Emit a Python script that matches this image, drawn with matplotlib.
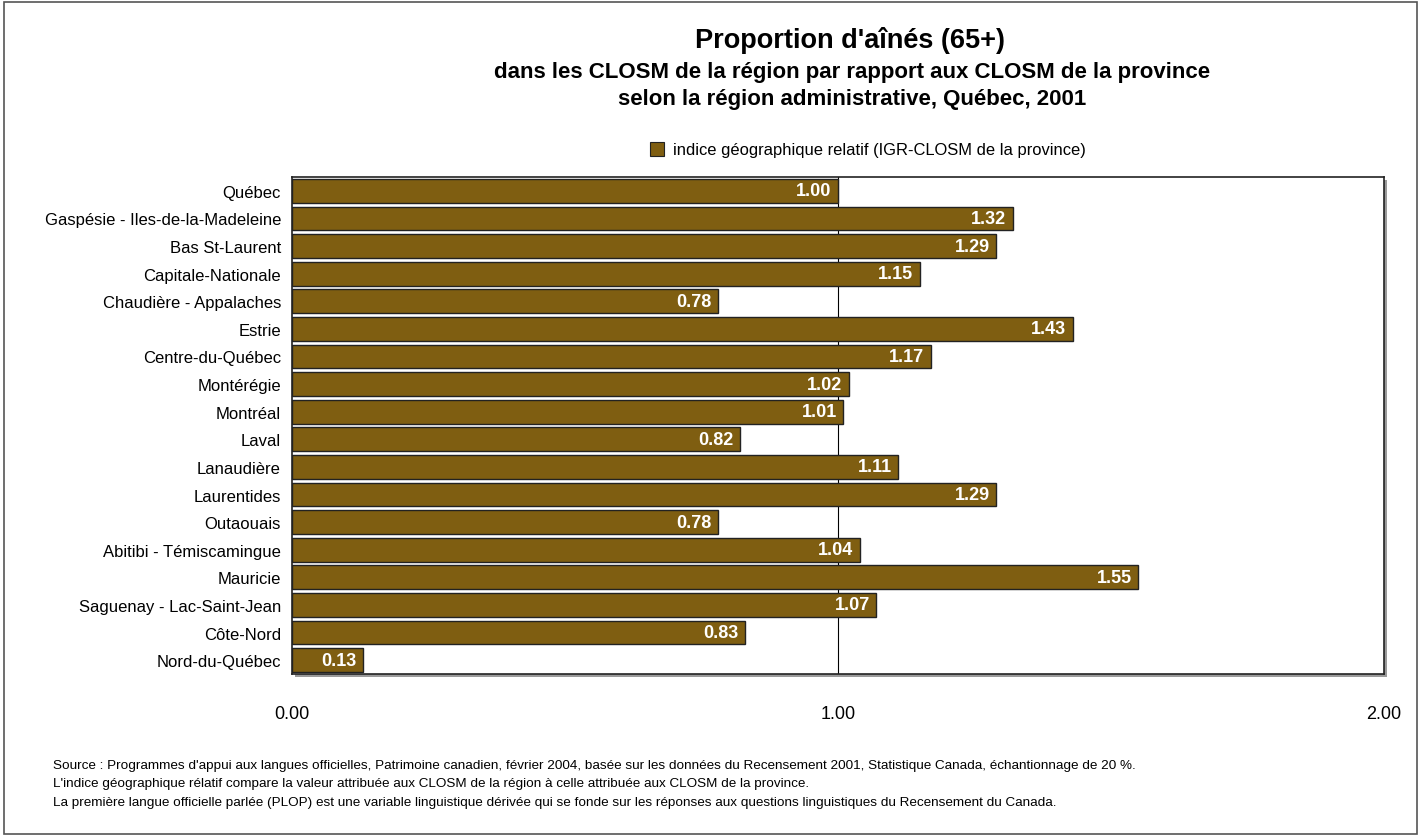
import matplotlib
matplotlib.use("Agg")
import matplotlib.pyplot as plt
from matplotlib.patches import Rectangle

plt.rcParams['font.family'] = ['Liberation Sans', 'DejaVu Sans']

regions = [
    "Québec",
    "Gaspésie - Iles-de-la-Madeleine",
    "Bas St-Laurent",
    "Capitale-Nationale",
    "Chaudière - Appalaches",
    "Estrie",
    "Centre-du-Québec",
    "Montérégie",
    "Montréal",
    "Laval",
    "Lanaudière",
    "Laurentides",
    "Outaouais",
    "Abitibi - Témiscamingue",
    "Mauricie",
    "Saguenay - Lac-Saint-Jean",
    "Côte-Nord",
    "Nord-du-Québec",
]
igr_values = [1.00, 1.32, 1.29, 1.15, 0.78, 1.43, 1.17, 1.02, 1.01, 0.82,
              1.11, 1.29, 0.78, 1.04, 1.55, 1.07, 0.83, 0.13]
x_ticks = [0.0, 1.0, 2.0]
x_tick_labels = ["0.00", "1.00", "2.00"]

title = "Proportion d'aînés (65+)"
subtitle = ("dans les CLOSM de la région par rapport aux CLOSM de la province\n"
            "selon la région administrative, Québec, 2001")
legend_label = "indice géographique relatif (IGR-CLOSM de la province)"
notes = [
    "Source : Programmes d'appui aux langues officielles, Patrimoine canadien, février 2004, basée sur les données du Recensement 2001, Statistique Canada, échantionnage de 20 %.",
    "L'indice géographique rélatif compare la valeur attribuée aux CLOSM de la région à celle attribuée aux CLOSM de la province.",
    "La première langue officielle parlée (PLOP) est une variable linguistique dérivée qui se fonde sur les réponses aux questions linguistiques du Recensement du Canada.",
]

bar_color = "#7f5e11"

W, H = 1422, 837
fig = plt.figure(figsize=(W / 100, H / 100), dpi=100)

# outer frame
fig.patches.append(Rectangle((4 / W, 1 - 835 / H), 1413 / W, 832 / H,
                             transform=fig.transFigure, fill=False,
                             edgecolor="#555555", linewidth=1.2))

left, right, top, bottom = 292, 1384, 178, 675
ax = fig.add_axes([left / W, 1 - bottom / H, (right - left) / W, (bottom - top) / H])

# soft shadow along the bottom and right of the plot frame
fig.patches.append(Rectangle(((left + 3) / W, 1 - (bottom + 3) / H),
                             (right - left) / W, (bottom - top) / H,
                             transform=fig.transFigure, facecolor="#9a9a9a",
                             edgecolor="none", zorder=-1))

n = len(regions)
ypos = list(range(n))
ax.barh(ypos, igr_values, height=0.86, color=bar_color, edgecolor="#222222",
        linewidth=1.0, zorder=3)
ax.set_ylim(n - 0.5, -0.5)
ax.set_xlim(0, 2)
ax.axvline(1.0, color="black", linewidth=0.8, zorder=1)

ax.set_yticks(ypos)
ax.set_yticklabels(regions, fontsize=12)
ax.set_xticks(x_ticks)
ax.set_xticklabels(x_tick_labels, fontsize=13)
ax.tick_params(axis="both", length=0)
ax.tick_params(axis="y", pad=8)
ax.tick_params(axis="x", pad=22)
for s in ax.spines.values():
    s.set_linewidth(1.2)
    s.set_color("#222222")

for y, v in zip(ypos, igr_values):
    ax.text(v - 0.012, y, f"{v:.2f}", ha="right", va="center", color="white",
            fontsize=13, fontweight="bold", zorder=4)

# titles
fig.text(850 / W, 1 - 40 / H, title, ha="center", va="center",
         fontsize=19.5, fontweight="bold")
fig.text(852 / W, 1 - 86 / H, subtitle, ha="center", va="center",
         fontsize=16, fontweight="bold", linespacing=1.32)

# legend
fig.patches.append(Rectangle((650 / W, 1 - 157 / H), 14 / W, 14 / H,
                             transform=fig.transFigure, facecolor=bar_color,
                             edgecolor="#222222", linewidth=0.8))
fig.text(673 / W, 1 - 150 / H, legend_label, ha="left", va="center", fontsize=11.9)

# notes
for i, line in enumerate(notes):
    fig.text(53 / W, 1 - (766 + i * 18.5) / H, line, ha="left", va="center",
             fontsize=9.7)

fig.savefig("out.png", dpi=100)
